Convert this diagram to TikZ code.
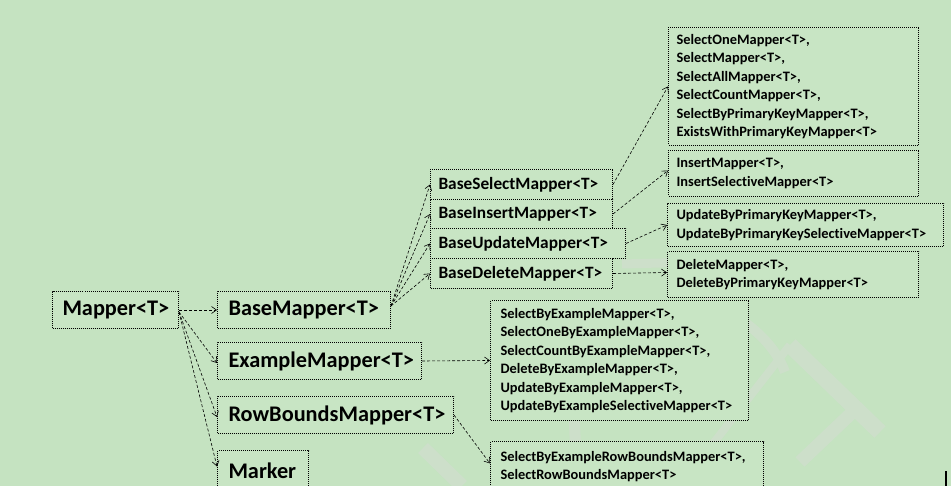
\documentclass[tikz,border=0pt]{standalone}
\usepackage{fontspec}
\setmainfont{Carlito}[Ligatures=NoCommon]
\usetikzlibrary{arrows.meta,calc}
\definecolor{bg}{HTML}{C5E3C1}
\definecolor{boxfill}{HTML}{C8E5C4}
\definecolor{wm}{HTML}{CDDFCA}
\tikzset{
  boxbase/.style={draw, densely dotted, line width=1pt, fill=boxfill, anchor=north west,
    inner xsep=0pt, inner ysep=0pt, align=left, text=black},
  bigbox/.style={boxbase, font=\fontsize{22.3}{26}\selectfont\bfseries},
  midbox/.style={boxbase, font=\fontsize{17.3}{20}\selectfont\bfseries},
  smallbox/.style={boxbase, font=\fontsize{14.4}{18.4}\selectfont\bfseries},
  conn/.style={densely dashed, line width=0.6pt, -{Straight Barb[length=5pt,width=7pt]}},
  wmark/.style={wm, line cap=butt},
}
\begin{document}
\begin{tikzpicture}[x=1pt,y=-1pt]
\fill[bg] (0,0) rectangle (951,486);
\useasboundingbox (0,0) rectangle (951,486);
% faint watermark strokes
\draw[wmark, line width=16pt] (790,345) -- (880,432);
\draw[wmark, line width=8pt] (790,345) -- (680,486);
\draw[wmark, line width=13pt] (800,462) -- (860,405);
\draw[wmark, line width=11pt] (583,300) .. controls (572,380) and (572,430) .. (580,486);
\draw[wmark, line width=14pt] (423,448) -- (462,486);
\draw[wmark, line width=10pt] (705,300) .. controls (750,320) and (775,345) .. (785,372);
\draw[wmark, line width=9pt] (622,264) -- (700,262);
% nodes
\node[bigbox, minimum width=126pt, minimum height=37pt, text width=116pt, inner xsep=5pt] (mapper) at (52,291) {\hspace*{5pt}Mapper<T>};
\node[bigbox, minimum width=173pt, minimum height=37pt, text width=163pt, inner xsep=5pt] (base) at (217,291) {\hspace*{6pt}BaseMapper<T>};
\node[bigbox, minimum width=204pt, minimum height=37pt, text width=194pt, inner xsep=5pt] (example) at (217,342) {\hspace*{6pt}ExampleMapper<T>};
\node[bigbox, minimum width=236pt, minimum height=37pt, text width=226pt, inner xsep=5pt] (rowb) at (217,396) {\hspace*{6pt}RowBoundsMapper<T>};
\node[bigbox, minimum width=91pt, minimum height=40pt, text width=81pt, inner xsep=5pt] (marker) at (217,450) {\hspace*{6pt}Marker};
\node[midbox, minimum width=182pt, minimum height=30pt, text width=172pt, inner xsep=5pt] (bsel) at (430,169) {\hspace*{3pt}BaseSelectMapper<T>};
\node[midbox, minimum width=182pt, minimum height=29pt, text width=172pt, inner xsep=5pt] (bins) at (430,199) {\hspace*{3pt}BaseInsertMapper<T>};
\node[midbox, minimum width=195pt, minimum height=30pt, text width=185pt, inner xsep=5pt] (bupd) at (430,228) {\hspace*{3pt}BaseUpdateMapper<T>};
\node[midbox, minimum width=182pt, minimum height=30pt, text width=172pt, inner xsep=5pt] (bdel) at (430,258) {\hspace*{3pt}BaseDeleteMapper<T>};
\node[smallbox, minimum width=250pt, minimum height=118pt, text width=240pt, inner xsep=5pt] (sel) at (668,27) {\hspace*{3pt}SelectOneMapper<T>,\\\hspace*{3pt}SelectMapper<T>,\\\hspace*{3pt}SelectAllMapper<T>,\\\hspace*{3pt}SelectCountMapper<T>,\\\hspace*{3pt}SelectByPrimaryKeyMapper<T>,\\\hspace*{3pt}ExistsWithPrimaryKeyMapper<T>};
\node[smallbox, minimum width=250pt, minimum height=46pt, text width=240pt, inner xsep=5pt] (ins) at (668,150) {\hspace*{3pt}InsertMapper<T>,\\\hspace*{3pt}InsertSelectiveMapper<T>};
\node[smallbox, minimum width=276pt, minimum height=43pt, text width=266pt, inner xsep=5pt] (upd) at (667,203) {\hspace*{4pt}UpdateByPrimaryKeyMapper<T>,\\\hspace*{4pt}UpdateByPrimaryKeySelectiveMapper<T>};
\node[smallbox, minimum width=251pt, minimum height=46pt, text width=241pt, inner xsep=5pt] (del) at (667,251) {\hspace*{4pt}DeleteMapper<T>,\\\hspace*{4pt}DeleteByPrimaryKeyMapper<T>};
\node[smallbox, minimum width=258pt, minimum height=120pt, text width=248pt, inner xsep=5pt] (exm) at (490,300) {\hspace*{5pt}SelectByExampleMapper<T>,\\\hspace*{5pt}SelectOneByExampleMapper<T>,\\\hspace*{5pt}SelectCountByExampleMapper<T>,\\\hspace*{5pt}DeleteByExampleMapper<T>,\\\hspace*{5pt}UpdateByExampleMapper<T>,\\\hspace*{5pt}UpdateByExampleSelectiveMapper<T>};
\node[smallbox, minimum width=273pt, minimum height=50pt, text width=263pt, inner xsep=5pt] (rbm) at (490,441) {\hspace*{5pt}SelectByExampleRowBoundsMapper<T>,\\\hspace*{5pt}SelectRowBoundsMapper<T>};
% connectors
\draw[conn] (mapper.east) -- (base.west);
\draw[conn] ([yshift=-2pt]mapper.east) -- ([yshift=-2pt]example.west);
\draw[conn] ([yshift=-2pt]mapper.east) -- ([yshift=-2pt]rowb.west);
\draw[conn] ([yshift=-2pt]mapper.east) -- ([yshift=4pt]marker.west);
\draw[conn] ([yshift=4pt]base.east) -- (bsel.west);
\draw[conn] ([yshift=4pt]base.east) -- (bins.west);
\draw[conn] ([yshift=4pt]base.east) -- (bupd.west);
\draw[conn] ([yshift=4pt]base.east) -- (bdel.west);
\draw[conn] (bsel.east) -- (sel.west);
\draw[conn] (bins.east) -- ([yshift=3pt]ins.west);
\draw[conn] (bupd.east) -- (upd.west);
\draw[conn] (bdel.east) -- ([yshift=2pt]del.west);
\draw[conn] (example.east) -- (exm.west);
\draw[conn] (rowb.east) -- ([yshift=3pt]rbm.west);
% cursor mark
\coordinate (curA) at (946,471);
\coordinate (curB) at (946,486);
\draw[line width=1.2pt] (curA) -- (curB);
\end{tikzpicture}
\end{document}
